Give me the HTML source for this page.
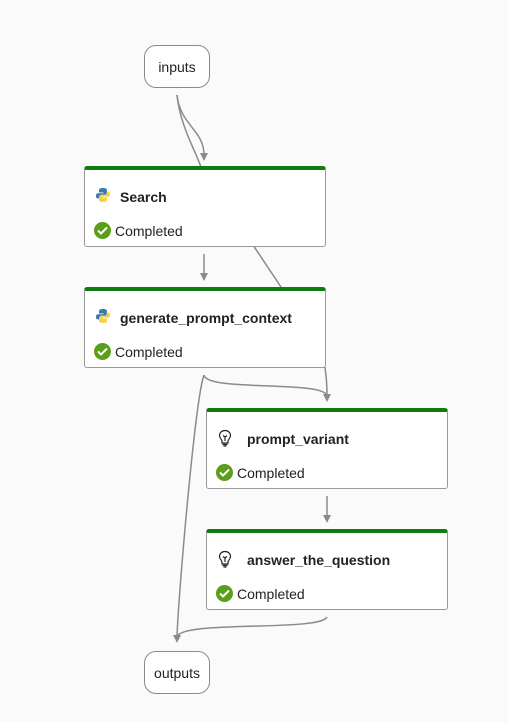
<!DOCTYPE html>
<html><head><meta charset="utf-8"><style>
html,body{margin:0;padding:0;background:#fafafa;}
body{width:508px;height:722px;position:relative;overflow:hidden;font-family:"Liberation Sans",sans-serif;}
.term{position:absolute;width:66px;height:43px;border:1.5px solid #8a8a8a;border-radius:12px;background:#fff;font-size:14px;color:#222;display:flex;align-items:center;justify-content:center;box-sizing:border-box;}
.node{position:absolute;width:242px;height:81px;background:#fff;border:1px solid #9a9a9a;border-top:4px solid #107c10;border-radius:3px;box-sizing:border-box;}
.title{position:absolute;left:35px;top:19px;font-size:14px;font-weight:bold;color:#222;}
.icon{position:absolute;left:10px;top:17px;}
.status{position:absolute;left:9px;top:52px;font-size:14px;color:#222;display:flex;align-items:center;}
.chk{width:17px;height:17px;border-radius:50%;background:#5a9e1a;display:inline-flex;align-items:center;justify-content:center;margin-right:4px;}
svg.e{position:absolute;left:0;top:0;}
</style></head><body>
<svg class="e" width="508" height="722">
<g fill="none" stroke="#8a8a8a" stroke-width="1.5">
<path d="M177,95 C180,125 195,150 201,167 L281,287 C300,315 322,340 325,368 C327,380 327,388 327,396"/>
<path d="M177,95 C180,125 204,130 204,155"/>
<path d="M204,254 L204,275"/>
<path d="M204,375 C206,392 325,380 327,396"/>
<path d="M204,375 C195,400 178,600 177,637"/>
<path d="M327,496 L327,517"/>
<path d="M327,617 C320,632 180,620 177,637"/>
</g>
<g fill="#8a8a8a">
<path d="M200,153 L208,153 L204,161 Z"/>
<path d="M200,273 L208,273 L204,281 Z"/>
<path d="M323,394 L331,394 L327,402 Z"/>
<path d="M323,515 L331,515 L327,523 Z"/>
<path d="M173,635 L181,635 L177,643 Z"/>
</g>
</svg>
<div class="term" style="left:144px;top:45px;">inputs</div>
<div class="term" style="left:144px;top:651px;">outputs</div>

<div class="node" style="left:84px;top:166px;">
<svg class="icon" width="16" height="16" viewBox="0 0 16 16"><path d="M8,1 C4,1 4,2.5 4,4 V5.5 H8.5 V6.2 H3 C1.2,6.2 1,8 1,9 C1,11 2,11.5 3,11.5 H4.5 V9.5 C4.5,8.5 5.5,7.8 6.5,7.8 H10 C11,7.8 12,7 12,6 V3 C12,1.8 10.5,1 8,1Z" fill="#3b78ad"/><path d="M8,15 C12,15 12,13.5 12,12 V10.5 H7.5 V9.8 H13 C14.8,9.8 15,8 15,7 C15,5 14,4.5 13,4.5 H11.5 V6.5 C11.5,7.5 10.5,8.2 9.5,8.2 H6 C5,8.2 4,9 4,10 V13 C4,14.2 5.5,15 8,15Z" fill="#f7d046"/></svg>
<div class="title">Search</div>
<div class="status"><span class="chk"><svg width="11" height="9" viewBox="0 0 11 9"><path d="M1,4.5 L4,7.5 L10,1.5" stroke="#fff" stroke-width="2" fill="none"/></svg></span>Completed</div>
</div>

<div class="node" style="left:84px;top:287px;">
<svg class="icon" width="16" height="16" viewBox="0 0 16 16"><path d="M8,1 C4,1 4,2.5 4,4 V5.5 H8.5 V6.2 H3 C1.2,6.2 1,8 1,9 C1,11 2,11.5 3,11.5 H4.5 V9.5 C4.5,8.5 5.5,7.8 6.5,7.8 H10 C11,7.8 12,7 12,6 V3 C12,1.8 10.5,1 8,1Z" fill="#3b78ad"/><path d="M8,15 C12,15 12,13.5 12,12 V10.5 H7.5 V9.8 H13 C14.8,9.8 15,8 15,7 C15,5 14,4.5 13,4.5 H11.5 V6.5 C11.5,7.5 10.5,8.2 9.5,8.2 H6 C5,8.2 4,9 4,10 V13 C4,14.2 5.5,15 8,15Z" fill="#f7d046"/></svg>
<div class="title">generate_prompt_context</div>
<div class="status"><span class="chk"><svg width="11" height="9" viewBox="0 0 11 9"><path d="M1,4.5 L4,7.5 L10,1.5" stroke="#fff" stroke-width="2" fill="none"/></svg></span>Completed</div>
</div>

<div class="node" style="left:206px;top:408px;">
<svg class="icon" width="16" height="18" viewBox="0 0 16 18"><path d="M8,1.5 C4.5,1.5 2.5,4 2.5,6.5 C2.5,9 4.5,10 5,12 V14 H11 V12 C11.5,10 13.5,9 13.5,6.5 C13.5,4 11.5,1.5 8,1.5Z M5.5,15.5 H10.5 M6.5,17 H9.5 M8,12 V8 M6,6.5 L8,8 L10,6.5" stroke="#222" stroke-width="1.2" fill="none"/></svg>
<div class="title" style="left:40px">prompt_variant</div>
<div class="status"><span class="chk"><svg width="11" height="9" viewBox="0 0 11 9"><path d="M1,4.5 L4,7.5 L10,1.5" stroke="#fff" stroke-width="2" fill="none"/></svg></span>Completed</div>
</div>

<div class="node" style="left:206px;top:529px;">
<svg class="icon" width="16" height="18" viewBox="0 0 16 18"><path d="M8,1.5 C4.5,1.5 2.5,4 2.5,6.5 C2.5,9 4.5,10 5,12 V14 H11 V12 C11.5,10 13.5,9 13.5,6.5 C13.5,4 11.5,1.5 8,1.5Z M5.5,15.5 H10.5 M6.5,17 H9.5 M8,12 V8 M6,6.5 L8,8 L10,6.5" stroke="#222" stroke-width="1.2" fill="none"/></svg>
<div class="title" style="left:40px">answer_the_question</div>
<div class="status"><span class="chk"><svg width="11" height="9" viewBox="0 0 11 9"><path d="M1,4.5 L4,7.5 L10,1.5" stroke="#fff" stroke-width="2" fill="none"/></svg></span>Completed</div>
</div>
</body></html>
